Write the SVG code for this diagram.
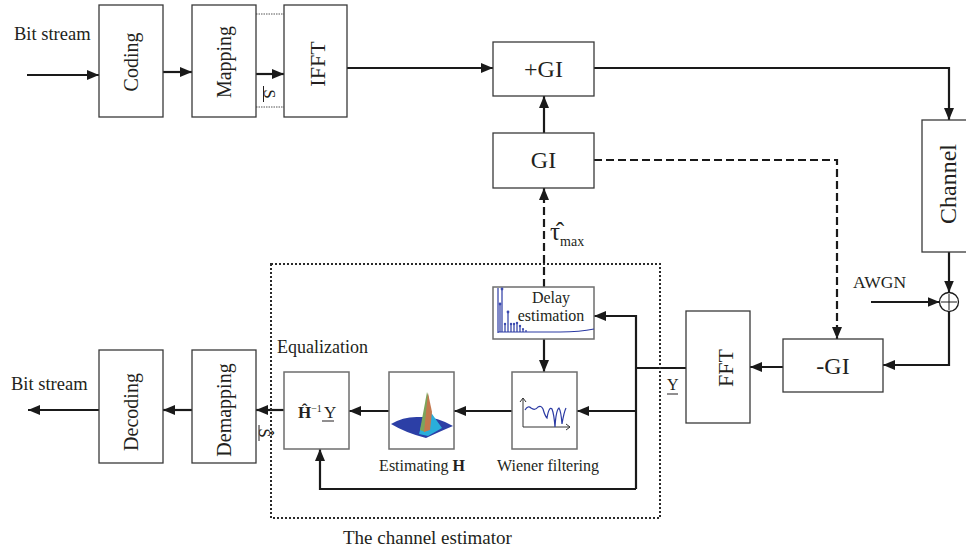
<svg xmlns="http://www.w3.org/2000/svg" width="966" height="554" viewBox="0 0 966 554">
  <style>
    text { font-family: "Liberation Serif", "Times New Roman", serif; fill: #231f20; }
    .box { fill: #ffffff; stroke: #3a3a3a; stroke-width: 1.3; }
    .ibox { fill: #ffffff; stroke: #6e6e6e; stroke-width: 1.5; }
    .wire { fill: none; stroke: #1a1a1a; stroke-width: 2.2; }
    .arr { marker-end: url(#head); }
    .dash { fill: none; stroke: #1a1a1a; stroke-width: 2.2; stroke-dasharray: 8 4; }
    .dots { fill: none; stroke: #2a2a2a; stroke-width: 2; stroke-dasharray: 2 2; }
    .thin { fill: none; stroke: #555; stroke-width: 1; stroke-dasharray: 1.5 1; }
    .big { font-size: 24px; }
    .rot { font-size: 20px; }
    .lbl { font-size: 16px; }
    .plot { fill: none; stroke: #2b3aa3; stroke-width: 1.2; }
  </style>
  <defs>
    <marker id="head" viewBox="0 0 12 10" refX="12" refY="5" markerWidth="12" markerHeight="10" markerUnits="userSpaceOnUse" orient="auto">
      <path d="M0,0 L12,5 L0,10 Z" fill="#1a1a1a"/>
    </marker>
  </defs>

  <!-- connectors -->
  <g id="connectors">
    <path class="wire arr" d="M27,75 H99"/>
    <path class="wire arr" d="M163,72 H192"/>
    <path class="wire arr" d="M256,74 H284"/>
    <path class="thin" d="M256,14 H284 M256,107 H284"/>
    <path class="wire arr" d="M347,68 H493"/>
    <path class="wire arr" d="M594,68 H949 V120"/>
    <path class="wire arr" d="M544,133 V96"/>
    <path class="dash arr" d="M594,160 H837 V339"/>
    <path class="dash arr" d="M544,287 V188"/>
    <path class="wire arr" d="M949,252 V292.5"/>
    <path class="wire arr" d="M871,302 H939.5"/>
    <path class="wire arr" d="M949,311.5 V365 H883"/>
    <path class="wire arr" d="M783,367 H750"/>
    <path class="wire" d="M686,368 H636"/>
    <path class="wire arr" d="M636,489 V316 H594"/>
    <path class="wire arr" d="M636,411 H577"/>
    <path class="wire arr" d="M636,489 H320 V449"/>
    <path class="wire arr" d="M544,339 V372"/>
    <path class="wire arr" d="M512,411 H454"/>
    <path class="wire arr" d="M389,411 H349"/>
    <path class="wire arr" d="M284,410 H256"/>
    <path class="wire arr" d="M192,410 H163"/>
    <path class="wire arr" d="M99,410 H28"/>
  </g>

  <!-- channel estimator frame -->
  <g id="estimator">
    <rect class="dots" x="271" y="264" width="389" height="254"/>
    <text x="343" y="544" style="font-size:19px">The channel estimator</text>
    <text x="277" y="353" style="font-size:18px">Equalization</text>
  </g>

  <!-- free labels -->
  <g id="labels">
    <text x="14" y="40" style="font-size:18.5px">Bit stream</text>
    <text x="11" y="390" style="font-size:18.5px">Bit stream</text>
    <text x="853" y="288" style="font-size:17.5px">AWGN</text>
    <text x="550" y="240" style="font-size:25px">τ̂<tspan dy="6" style="font-size:14px">max</tspan></text>
    <text transform="translate(270,94) rotate(90)" text-anchor="middle" dy="0.35em" style="font-size:17px">S</text>
    <line x1="263.5" y1="86" x2="263.5" y2="102" stroke="#231f20" stroke-width="1"/>
    <text transform="translate(265,433) rotate(90)" text-anchor="middle" dy="0.35em" style="font-size:17px">Ŝ</text>
    <line x1="259" y1="425" x2="259" y2="441" stroke="#231f20" stroke-width="1"/>
    <text x="667" y="390" class="lbl">Y</text>
    <line x1="667" y1="394" x2="678" y2="394" stroke="#231f20" stroke-width="1"/>
  </g>

  <g id="coding">
    <rect class="box" x="99" y="5" width="64" height="112"/>
    <text class="rot" transform="translate(131,62) rotate(-90)" text-anchor="middle" dy="0.35em">Coding</text>
  </g>
  <g id="mapping">
    <rect class="box" x="192" y="5" width="64" height="112"/>
    <text class="rot" transform="translate(224,62) rotate(-90)" text-anchor="middle" dy="0.35em">Mapping</text>
  </g>
  <g id="ifft">
    <rect class="box" x="284" y="5" width="63" height="112"/>
    <text transform="translate(317,64) rotate(-90)" text-anchor="middle" dy="0.35em" style="font-size:22px">IFFT</text>
  </g>
  <g id="add-gi">
    <rect class="box" x="493" y="42" width="101" height="54"/>
    <text class="big" x="543.5" y="77" text-anchor="middle">+GI</text>
  </g>
  <g id="gi">
    <rect class="box" x="493" y="133" width="101" height="55"/>
    <text class="big" x="543.5" y="168" text-anchor="middle">GI</text>
  </g>
  <g id="channel">
    <rect class="box" x="922" y="120" width="56" height="132"/>
    <text class="big" transform="translate(948,184) rotate(-90)" text-anchor="middle" dy="0.35em">Channel</text>
  </g>
  <g id="adder">
    <circle cx="949" cy="302" r="9.5" fill="#fff" stroke="#1a1a1a" stroke-width="1.3"/>
    <path d="M941,302 H957 M949,294 V310" stroke="#1a1a1a" stroke-width="1"/>
  </g>
  <g id="remove-gi">
    <rect class="box" x="783" y="339" width="100" height="53"/>
    <text class="big" x="833" y="374" text-anchor="middle">-GI</text>
  </g>
  <g id="fft">
    <rect class="box" x="686" y="311" width="64" height="112"/>
    <text transform="translate(725,368) rotate(-90)" text-anchor="middle" dy="0.35em" style="font-size:22px">FFT</text>
  </g>

  <g id="delay-estimation">
    <rect class="ibox" x="493" y="287" width="101" height="52"/>
    <path class="plot" d="M498,288 V333"/>
    <path class="plot" d="M498,332 H560 Q580,332 594,329"/>
    <g stroke="#2b3aa3" stroke-width="1.2">
      <path d="M500,332 V304 M502,332 V289 M505,332 V324 M508,332 V312 M511,332 V324 M514,332 V324 M517,332 V323 M520,332 V326 M523,332 V329 M526,332 V330"/>
    </g>
    <g fill="#3b4ab0">
      <circle cx="500" cy="304" r="1.4"/><circle cx="502" cy="289" r="1.4"/><circle cx="505" cy="324" r="1.2"/>
      <circle cx="508" cy="312" r="1.4"/><circle cx="511" cy="324" r="1.2"/><circle cx="514" cy="324" r="1.2"/>
      <circle cx="517" cy="323" r="1.2"/><circle cx="520" cy="326" r="1.2"/><circle cx="523" cy="329" r="1.1"/>
    </g>
    <text class="lbl" x="551" y="303" text-anchor="middle">Delay</text>
    <text class="lbl" x="551" y="321" text-anchor="middle">estimation</text>
  </g>

  <g id="wiener-filtering">
    <rect class="ibox" x="512" y="372" width="65" height="77"/>
    <path d="M523,427 V398 M520,402 L523,398 L526,402 M523,427 H570 M566,424 L570,427 L566,430" fill="none" stroke="#333" stroke-width="1"/>
    <path class="plot" d="M525,410 Q528,405 531,408 Q535,411 538,407 Q541,405 543,409 Q545,416 547,418 Q549,406 552,409 Q554,414 555,427 Q556,410 559,408 Q561,411 562,424 Q564,412 566,408"/>
    <text class="lbl" x="548" y="471" text-anchor="middle">Wiener filtering</text>
  </g>

  <g id="estimating-h">
    <rect class="ibox" x="389" y="372" width="65" height="77"/>
    <path d="M391,424 Q404,416 420,417 Q436,416 453,426 Q441,431 426,438 Q406,433 391,424 Z" fill="#2c3fa6"/>
    <path d="M419,434 L423,419 L430,411 L437,421 L442,428 L428,436 Z" fill="#2aaedb"/>
    <path d="M420,430 L427,392 L429,398 L425,432 Z" fill="#7da45c"/>
    <path d="M424,432 L428,393 L432,412 L430,430 Z" fill="#c4784e"/>
    <text class="lbl" x="422" y="471" text-anchor="middle">Estimating <tspan font-weight="bold">H</tspan></text>
  </g>

  <g id="equalizer">
    <rect class="ibox" x="284" y="372" width="65" height="77"/>
    <text x="298" y="418" style="font-size:17px"><tspan font-weight="bold">Ĥ</tspan><tspan dy="-6" style="font-size:10px">−1</tspan><tspan dy="6" dx="2">Y</tspan></text>
    <line x1="322" y1="421" x2="334" y2="421" stroke="#231f20" stroke-width="1"/>
  </g>

  <g id="demapping">
    <rect class="box" x="192" y="350" width="64" height="113"/>
    <text class="rot" transform="translate(224,410) rotate(-90)" text-anchor="middle" dy="0.35em">Demapping</text>
  </g>
  <g id="decoding">
    <rect class="box" x="99" y="350" width="64" height="113"/>
    <text class="rot" transform="translate(131,412) rotate(-90)" text-anchor="middle" dy="0.35em">Decoding</text>
  </g>
</svg>
